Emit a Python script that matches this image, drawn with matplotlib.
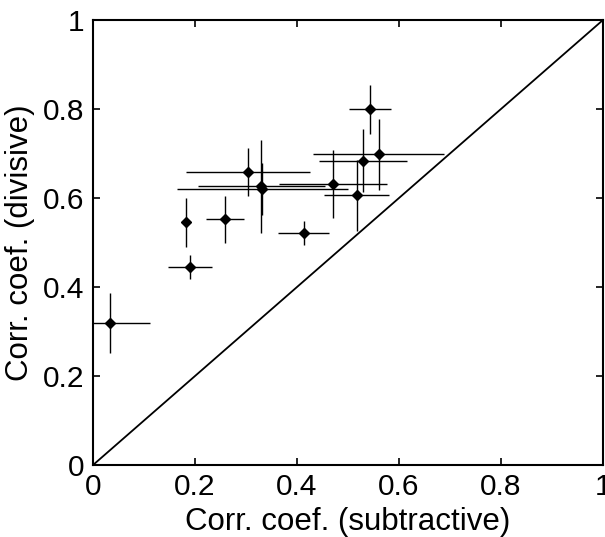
import numpy as np
import matplotlib
matplotlib.use("Agg")
import matplotlib.pyplot as plt
from matplotlib.ticker import FuncFormatter

plt.rcParams['font.family'] = ['Liberation Sans', 'DejaVu Sans']

# correlation coefficients: subtractive (x) vs divisive (y)
corr_sub = [0.033, 0.182, 0.191, 0.259, 0.304, 0.330, 0.332, 0.413, 0.471, 0.517, 0.529, 0.543, 0.560]
corr_div = [0.319, 0.545, 0.445, 0.552, 0.659, 0.626, 0.620, 0.522, 0.631, 0.606, 0.684, 0.799, 0.698]
err_sub = [0.079, 0.0, 0.043, 0.037, 0.121, 0.125, 0.168, 0.050, 0.106, 0.064, 0.086, 0.042, 0.128]
err_div = [0.068, 0.054, 0.027, 0.053, 0.054, 0.105, 0.059, 0.027, 0.076, 0.080, 0.071, 0.056, 0.079]

ticks = [0, 0.2, 0.4, 0.6, 0.8, 1]

fig = plt.figure(figsize=(6.05, 5.37), dpi=100)
ax = fig.add_axes([0.1537, 0.134, 0.843, 0.8288])

# diagonal y = x
ax.plot([0, 1], [0, 1], color='black', lw=1.3)

ax.errorbar(corr_sub, corr_div, xerr=err_sub, yerr=err_div, fmt='D',
            color='black', ms=5.5, elinewidth=1.0, capsize=0)

ax.set_xlim(0, 1)
ax.set_ylim(0, 1)
ax.set_xticks(ticks)
ax.set_yticks(ticks)
fmt = FuncFormatter(lambda v, p: '%g' % v)
ax.xaxis.set_major_formatter(fmt)
ax.yaxis.set_major_formatter(fmt)
ax.tick_params(direction='in', length=5, width=1.2, top=True, right=True,
               labelsize=21.5, pad=6)
for s in ax.spines.values():
    s.set_linewidth(1.5)

ax.set_xlabel('Corr. coef. (subtractive)', fontsize=22.5, labelpad=4)
ax.set_ylabel('Corr. coef. (divisive)', fontsize=22.5, labelpad=6)

fig.savefig('out.png', dpi=100)
